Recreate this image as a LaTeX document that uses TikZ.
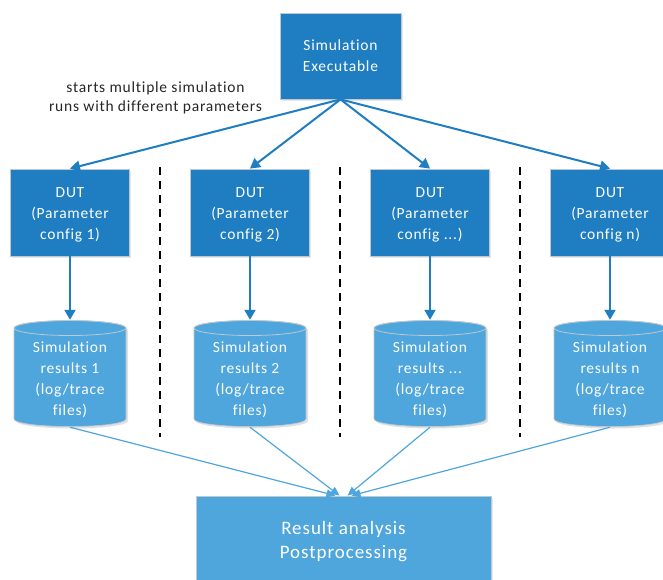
\documentclass[tikz,border=0pt]{standalone}
\usepackage{fontspec}
\setmainfont{Carlito}[LetterSpace=5.0, Ligatures=NoCommon]
\usetikzlibrary{arrows.meta,shadows}
\definecolor{dkblue}{RGB}{31,125,193}
\definecolor{ltblue}{RGB}{78,166,221}
\definecolor{edgegray}{RGB}{190,200,208}
\definecolor{labelgray}{RGB}{38,38,38}
\newcommand{\tdots}{...}
\begin{document}
\begin{tikzpicture}[x=1pt,y=-1pt,
  boxshadow/.style={drop shadow={opacity=0.18,shadow xshift=1.5pt,shadow yshift=-1.5pt}},
  darkbox/.style={rectangle, fill=dkblue, draw=edgegray, line width=0.8pt, text=white,
    align=center, font=\fontsize{15.5}{21}\selectfont, inner sep=0pt, boxshadow},
  topbox/.style={darkbox, minimum width=121pt, minimum height=86pt},
  dutbox/.style={darkbox, minimum width=119pt, minimum height=87pt},
  resbox/.style={rectangle, fill=ltblue, draw=edgegray, line width=0.8pt,
    inner sep=0pt, minimum width=295pt, minimum height=86pt, boxshadow},
  whitetext/.style={align=center, text=white, font=\fontsize{15.5}{21}\selectfont, inner sep=0pt},
  restext/.style={align=center, text=white, font=\fontsize{19}{24}\selectfont, inner sep=0pt},
  cylnode/.style={rectangle, inner sep=0pt, minimum width=112pt, minimum height=107pt},
  cylbody/.style={fill=ltblue, draw=edgegray, line width=0.6pt},
  cyltop/.style={draw=edgegray, line width=0.8pt},
  lbl/.style={align=center, text=labelgray, font=\fontsize{15.5}{19}\selectfont, inner sep=0pt},
  toparrow/.style={draw=dkblue, line width=2pt, -{Triangle[length=10pt,width=11pt]}},
  botline/.style={draw=ltblue, line width=1.2pt, -{Triangle[length=9pt,width=8pt]}},
  sepline/.style={draw=black, line width=1.2pt, dash pattern=on 8pt off 6pt}
]
\useasboundingbox (0,0) rectangle (663,579);
\fill[white] (0,0) rectangle (663,579);

% top box
\node[topbox] (top) at (340.5,56) {Simulation\\Executable};

% label
\node[lbl] (lab) at (155.5,97.5) {starts multiple simulation\\runs with different parameters};

% separators
\draw[sepline] (160,167) -- (160,437);
\draw[sepline] (340,167) -- (340,437);
\draw[sepline] (520,167) -- (520,437);

% result box
\node[resbox] (res) at (343.5,539) {};
\node[restext] (rest) at (343.5,542) {Result analysis\\Postprocessing};
\coordinate (e1) at ([xshift=-8pt]res.north);
\coordinate (e2) at ([xshift=-4pt]res.north);
\coordinate (e3) at ([xshift=4pt]res.north);
\coordinate (e4) at ([xshift=8pt]res.north);

\foreach \i/\x/\n in {1/70/1, 2/250/2, 3/430/\tdots, 4/610/n} {
  \node[dutbox] (d\i) at (\x,212.5) {};
  \node[whitetext] (dt\i) at (\x,215) {DUT\\(Parameter\\config \n)};
  % cylinder shadow
  \fill[black, opacity=0.12] (\x-54,330) -- (\x-54,421) arc[start angle=180,end angle=360,x radius=56pt,y radius=7.5pt] -- (\x+58,330) arc[start angle=0,end angle=180,x radius=56pt,y radius=7.5pt] -- cycle;
  % cylinder body
  \path[cylbody] (\x-56,328) -- (\x-56,419) arc[start angle=180,end angle=360,x radius=56pt,y radius=7.5pt] -- (\x+56,328) arc[start angle=0,end angle=180,x radius=56pt,y radius=7.5pt] -- cycle;
  \draw[cyltop] (\x,328) ellipse [x radius=56pt, y radius=7.5pt];
  \node[cylnode] (c\i) at (\x,373.5) {};
  \node[whitetext] (t\i) at (\x,380) {Simulation\\results \n\\(log/trace\\files)};
  \draw[toparrow] (top.south) -- (d\i.north);
  \draw[toparrow] (d\i.south) -- (c\i.north);
  \draw[botline] (c\i.south) -- (e\i);
}
\end{tikzpicture}
\end{document}
